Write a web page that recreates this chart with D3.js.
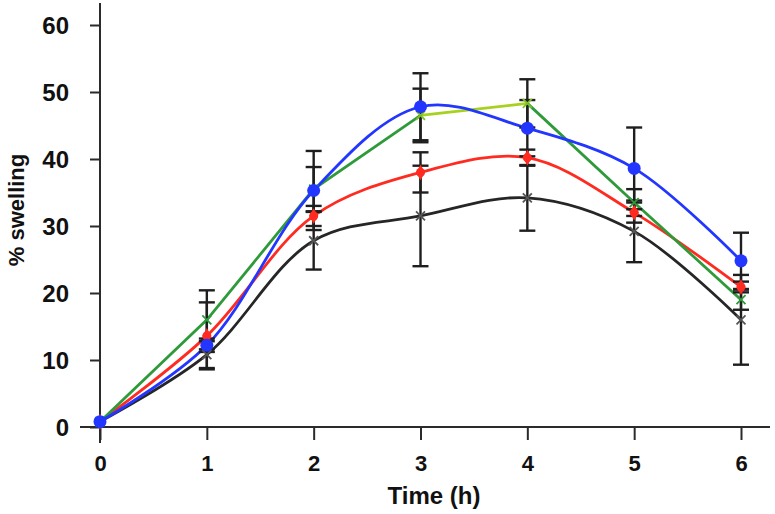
<!DOCTYPE html>
<html>
<head>
<meta charset="utf-8">
<script src="https://cdn.jsdelivr.net/npm/d3@7"></script>
<style>
  html, body { margin: 0; padding: 0; background: #fff; }
  svg { display: block; font-family: "Liberation Sans", Arial, Helvetica, sans-serif; }
</style>
</head>
<body>
<svg id="chart" width="775" height="514"></svg>
<script>
// ---- data ----
const times = [0, 1, 2, 3, 4, 5, 6];
const xTicks = [0, 1, 2, 3, 4, 5, 6];
const yTicks = [0, 10, 20, 30, 40, 50, 60];

const blackVals = [0.8, 10.8, 27.8, 31.5, 34.2, 29.2, 16.0];
const blackErr  = [0, 2.0, 4.3, 7.5, 4.9, 4.6, 6.7];
const redVals   = [0.8, 13.6, 31.5, 38.0, 40.2, 32.0, 20.9];
const redErr    = [0, 5.0, 1.5, 3.0, 1.2, 1.5, 0.8];
const greenVals = [0.8, 16.0, 35.5, 46.5, 48.3, 33.5, 19.0];
const greenErr  = [0, 4.4, 3.3, 4.0, 3.6, 2.0, 1.5];
const blueVals  = [0.8, 12.2, 35.3, 47.8, 44.6, 38.6, 24.8];
const blueErr   = [0, 1.0, 5.9, 5.0, 4.2, 6.1, 4.2];

const xLabel = "Time (h)";
const yLabel = "% swelling";

// ---- setup ----
const svg = d3.select("#chart");
const x = d3.scaleLinear().domain([0, 6]).range([100, 741]);
const y = d3.scaleLinear().domain([0, 60]).range([427, 25]);
const axisColor = "#2b2b2b";

// axes lines
svg.append("line").attr("x1", x(0)).attr("x2", x(0)).attr("y1", 3).attr("y2", 443)
  .attr("stroke", axisColor).attr("stroke-width", 2);
svg.append("line").attr("x1", 80).attr("x2", 770).attr("y1", y(0)).attr("y2", y(0))
  .attr("stroke", axisColor).attr("stroke-width", 2);

// y ticks
const yAxis = d3.axisLeft(y).tickValues(yTicks).tickSize(10).tickPadding(10).tickFormat(d3.format("d"));
const gy = svg.append("g").attr("transform", `translate(${x(0)},0)`).call(yAxis);
gy.select(".domain").remove();
gy.selectAll(".tick line").attr("stroke", axisColor).attr("stroke-width", 2);
gy.selectAll(".tick text").attr("font-size", 24).attr("font-weight", "bold")
  .attr("fill", "#111").attr("font-family", "'Liberation Sans', Arial, sans-serif")
  .attr("x", -31).attr("dy", "0.36em");

// x ticks
const xAxis = d3.axisBottom(x).tickValues(xTicks).tickSize(13).tickPadding(10).tickFormat(d3.format("d"));
const gx = svg.append("g").attr("transform", `translate(0,${y(0)})`).call(xAxis);
gx.select(".domain").remove();
gx.selectAll(".tick line").attr("stroke", axisColor).attr("stroke-width", 2);
gx.selectAll(".tick text").attr("font-size", 22).attr("font-weight", "bold")
  .attr("fill", "#111").attr("font-family", "'Liberation Sans', Arial, sans-serif")
  .attr("y", 28).attr("dy", "0.71em");

// axis labels
svg.append("text").attr("x", 434).attr("y", 504).attr("text-anchor", "middle")
  .attr("font-size", 24).attr("font-weight", "bold").attr("fill", "#111").text(xLabel);
svg.append("text").attr("transform", "translate(24,210) rotate(-90)").attr("text-anchor", "middle")
  .attr("font-size", 22).attr("font-weight", "bold").attr("fill", "#111").text(yLabel);

// ---- lines ----
const series = [
  { vals: blackVals, err: blackErr, color: "#262626", curve: d3.curveCatmullRom, marker: "x" },
  { vals: redVals,   err: redErr,   color: "#ff2a20", curve: d3.curveCatmullRom, marker: "diamond" },
  { vals: greenVals, err: greenErr, color: "#2f9a3a", curve: d3.curveLinear, marker: "xg" },
  { vals: blueVals,  err: blueErr,  color: "#2236ff", curve: d3.curveCatmullRom, marker: "circle" }
];

const pts = s => times.map((t, i) => [x(t), y(s.vals[i])]);

series.forEach(s => {
  const line = d3.line().curve(s.curve);
  if (s.marker === "xg") {
    const p = pts(s);
    svg.append("path").attr("d", line(p.slice(0, 4))).attr("fill", "none")
      .attr("stroke", s.color).attr("stroke-width", 2.8);
    svg.append("path").attr("d", line(p.slice(3, 5))).attr("fill", "none")
      .attr("stroke", "#a6d21e").attr("stroke-width", 2.8);
    svg.append("path").attr("d", line(p.slice(4))).attr("fill", "none")
      .attr("stroke", s.color).attr("stroke-width", 2.8);
  } else {
    svg.append("path").attr("d", line(pts(s))).attr("fill", "none")
      .attr("stroke", s.color).attr("stroke-width", 2.8);
  }
});

// ---- error bars ----
const capW = 8;
series.forEach(s => {
  times.forEach((t, i) => {
    const e = s.err[i];
    if (!e) return;
    const cx = x(t), top = y(s.vals[i] + e), bot = y(s.vals[i] - e);
    const g = svg.append("g").attr("stroke", "#1e1e1e").attr("stroke-width", 2.4);
    g.append("line").attr("x1", cx).attr("x2", cx).attr("y1", top).attr("y2", bot);
    g.append("line").attr("x1", cx - capW).attr("x2", cx + capW).attr("y1", top).attr("y2", top);
    g.append("line").attr("x1", cx - capW).attr("x2", cx + capW).attr("y1", bot).attr("y2", bot);
  });
});

// ---- markers ----
series.forEach(s => {
  times.forEach((t, i) => {
    const cx = x(t), cy = y(s.vals[i]);
    if (s.marker === "circle") {
      svg.append("circle").attr("cx", cx).attr("cy", cy).attr("r", 6.5).attr("fill", s.color);
    } else if (s.marker === "diamond") {
      svg.append("path").attr("transform", `translate(${cx},${cy})`)
        .attr("d", d3.symbol(d3.symbolDiamond, 70)()).attr("fill", s.color);
      svg.append("circle").attr("cx", cx).attr("cy", cy).attr("r", 4.5).attr("fill", s.color);
    } else {
      const col = s.marker === "xg" ? (i === 3 || i === 4 ? "#7fbf2a" : s.color) : "#555";
      const r = 4.5;
      svg.append("path").attr("d", `M${cx - r},${cy - r}L${cx + r},${cy + r}M${cx - r},${cy + r}L${cx + r},${cy - r}`)
        .attr("stroke", col).attr("stroke-width", 1.8).attr("fill", "none");
    }
  });
});
</script>
</body>
</html>
